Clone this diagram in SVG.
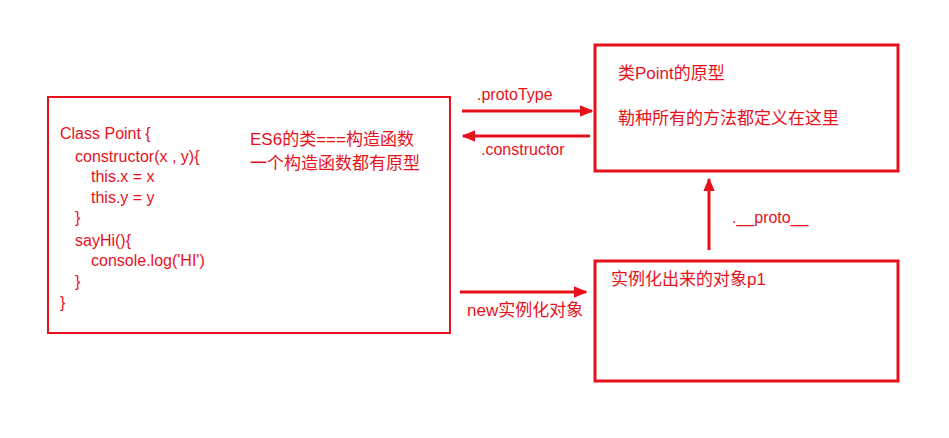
<svg xmlns="http://www.w3.org/2000/svg" width="949" height="438" viewBox="0 0 949 438">
<style>
.box{fill:#fff;stroke:#e8111b}
.t{fill:#e8111b;font-family:"Liberation Sans","Noto Sans CJK SC",sans-serif;font-size:16px}
.z{font-size:17px}
.c{stroke:#e8111b;stroke-width:3;fill:none}
</style>
<defs>
<marker id="ah" viewBox="0 0 10 10" refX="9" refY="5" markerWidth="4.5" markerHeight="3.8" orient="auto" markerUnits="strokeWidth" preserveAspectRatio="none">
<path d="M0,0 L10,5 L0,10 z" fill="#e8111b"/>
</marker>
</defs>
<rect width="949" height="438" fill="#fff"/>
<g id="classBox">
<rect class="box" x="48" y="97" width="402" height="236" stroke-width="2"/>
<text class="t" x="60" y="139">Class Point {</text>
<text class="t" x="75" y="162">constructor(x , y){</text>
<text class="t" x="91" y="182">this.x = x</text>
<text class="t" x="91" y="203">this.y = y</text>
<text class="t" x="75" y="223">}</text>
<text class="t" x="75" y="246">sayHi(){</text>
<text class="t" x="91" y="266">console.log('HI')</text>
<text class="t" x="75" y="287">}</text>
<text class="t" x="60" y="308">}</text>
<text class="t z" x="250" y="145">ES6的类===构造函数</text>
<text class="t z" x="250" y="169">一个构造函数都有原型</text>
</g>
<g id="protoBox">
<rect class="box" x="595" y="45" width="303" height="126" stroke-width="3"/>
<text class="t z" x="618" y="79">类Point的原型</text>
<text class="t z" x="618" y="124">勒种所有的方法都定义在这里</text>
</g>
<g id="instanceBox">
<rect class="box" x="595" y="261" width="303" height="120" stroke-width="3"/>
<text class="t z" x="611" y="285">实例化出来的对象p1</text>
</g>
<g id="connectors">
<line class="c" x1="462" y1="111" x2="592" y2="111" marker-end="url(#ah)"/>
<line class="c" x1="590" y1="136" x2="463" y2="136" marker-end="url(#ah)"/>
<line class="c" x1="709" y1="250" x2="709" y2="179" marker-end="url(#ah)"/>
<line class="c" x1="460" y1="292" x2="586" y2="292" marker-end="url(#ah)"/>
<text class="t" x="477" y="100">.protoType</text>
<text class="t" x="481" y="155">.constructor</text>
<text class="t" x="732" y="223">.__proto__</text>
<text class="t z" x="467" y="316">new实例化对象</text>
</g>
</svg>
